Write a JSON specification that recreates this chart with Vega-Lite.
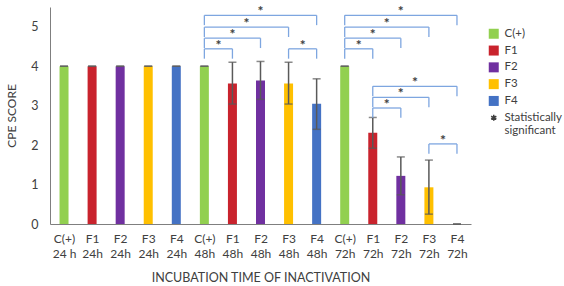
{
  "$schema": "https://vega.github.io/schema/vega-lite/v6.json",
  "width": 421,
  "height": 217,
  "autosize": {"type": "none"},
  "padding": {"left": 50, "top": 7, "right": 93, "bottom": 62},
  "background": "white",
  "config": {
    "font": "Lato",
    "view": {"stroke": null},
    "axis": {"labelColor": "#404040", "titleColor": "#404040", "domainColor": "#7f7f7f", "grid": false, "ticks": false, "titleFontWeight": "normal"}
  },
  "datasets": {
    "bars": [
      {"pos": 0, "group": "C(+)", "time": "24 h", "value": 4, "lo": 4, "hi": 4},
      {"pos": 1, "group": "F1", "time": "24h", "value": 4, "lo": 4, "hi": 4},
      {"pos": 2, "group": "F2", "time": "24h", "value": 4, "lo": 4, "hi": 4},
      {"pos": 3, "group": "F3", "time": "24h", "value": 4, "lo": 4, "hi": 4},
      {"pos": 4, "group": "F4", "time": "24h", "value": 4, "lo": 4, "hi": 4},
      {"pos": 5, "group": "C(+)", "time": "48h", "value": 4, "lo": 4, "hi": 4},
      {"pos": 6, "group": "F1", "time": "48h", "value": 3.56, "lo": 3.04, "hi": 4.1},
      {"pos": 7, "group": "F2", "time": "48h", "value": 3.64, "lo": 3.16, "hi": 4.12},
      {"pos": 8, "group": "F3", "time": "48h", "value": 3.56, "lo": 3.04, "hi": 4.1},
      {"pos": 9, "group": "F4", "time": "48h", "value": 3.05, "lo": 2.4, "hi": 3.68},
      {"pos": 10, "group": "C(+)", "time": "72h", "value": 4, "lo": 4, "hi": 4},
      {"pos": 11, "group": "F1", "time": "72h", "value": 2.31, "lo": 1.92, "hi": 2.7},
      {"pos": 12, "group": "F2", "time": "72h", "value": 1.22, "lo": 0.74, "hi": 1.7},
      {"pos": 13, "group": "F3", "time": "72h", "value": 0.93, "lo": 0.25, "hi": 1.62},
      {"pos": 14, "group": "F4", "time": "72h", "value": 0, "lo": 0, "hi": 0}
    ],
    "brackets": [
      {"from": 5, "to": 6, "mid": 5.5, "level": 4.44, "foot": 4.19},
      {"from": 5, "to": 7, "mid": 6, "level": 4.71, "foot": 4.46},
      {"from": 5, "to": 8, "mid": 6.5, "level": 4.99, "foot": 4.74},
      {"from": 5, "to": 9, "mid": 7, "level": 5.29, "foot": 5.04},
      {"from": 8, "to": 9, "mid": 8.5, "level": 4.44, "foot": 4.19},
      {"from": 10, "to": 11, "mid": 10.5, "level": 4.44, "foot": 4.19},
      {"from": 10, "to": 12, "mid": 11, "level": 4.71, "foot": 4.46},
      {"from": 10, "to": 13, "mid": 11.5, "level": 4.99, "foot": 4.74},
      {"from": 10, "to": 14, "mid": 12, "level": 5.29, "foot": 5.04},
      {"from": 11, "to": 12, "mid": 11.5, "level": 2.94, "foot": 2.69},
      {"from": 11, "to": 13, "mid": 12, "level": 3.21, "foot": 2.96},
      {"from": 11, "to": 14, "mid": 12.5, "level": 3.49, "foot": 3.24},
      {"from": 13, "to": 14, "mid": 13.5, "level": 2.03, "foot": 1.78}
    ]
  },
  "resolve": {"scale": {"x": "independent"}},
  "layer": [
    {
      "data": {"name": "bars"},
      "encoding": {
        "x": {
          "field": "pos", "type": "ordinal",
          "scale": {"type": "point", "padding": 0.5, "round": false},
          "axis": {
            "title": "INCUBATION TIME OF INACTIVATION",
            "labelAngle": 0,
            "labelExpr": "[['C(+)','24 h'],['F1','24h'],['F2','24h'],['F3','24h'],['F4','24h'],['C(+)','48h'],['F1','48h'],['F2','48h'],['F3','48h'],['F4','48h'],['C(+)','72h'],['F1','72h'],['F2','72h'],['F3','72h'],['F4','72h']][datum.value]",
            "labelFontSize": 12,
            "labelLineHeight": 15.7,
            "labelPadding": 9,
            "labelOverlap": false,
            "titleFontSize": 12.5,
            "titlePadding": 12
          }
        }
      },
      "layer": [
        {
          "mark": {"type": "bar", "width": 9},
          "encoding": {
            "y": {
              "field": "value", "type": "quantitative",
              "scale": {"domain": [0, 5.5], "nice": false},
              "axis": {"title": "CPE SCORE", "values": [0,1,2,3,4,5], "labelFontSize": 12.5, "labelPadding": 12, "titleFontSize": 12, "titlePadding": 12}
            },
            "color": {
              "field": "group", "type": "nominal",
              "scale": {"domain": ["C(+)", "F1", "F2", "F3", "F4", "sig"], "range": ["#92d050", "#c9232d", "#7030a0", "#ffc000", "#4472c4", "#404040"]},
              "legend": {
                "title": null,
                "orient": "none",
                "legendX": 438,
                "legendY": 21,
                "symbolType": "square",
                "symbolSize": 100,
                "symbolStrokeWidth": 0,
                "labelFontSize": 11.5,
                "labelColor": "#404040",
                "rowPadding": 3.8,
                "labelOffset": 5,
                "labelLimit": 80,
                "labelExpr": "datum.value === 'sig' ? ['Statistically', 'significant'] : datum.label",
                "encode": {
                  "symbols": {
                    "update": {
                      "shape": {"signal": "datum.value === 'sig' ? 'M0,-1L0,1M-0.87,-0.5L0.87,0.5M-0.87,0.5L0.87,-0.5' : 'square'"},
                      "stroke": {"signal": "datum.value === 'sig' ? '#404040' : null"},
                      "strokeWidth": {"signal": "datum.value === 'sig' ? 1.5 : 0"},
                      "size": {"signal": "datum.value === 'sig' ? 36 : 100"}
                    }
                  }
                }
              }
            }
          }
        },
        {
          "mark": {"type": "rule", "color": "#595959", "strokeWidth": 1.5},
          "encoding": {
            "y": {"field": "lo", "type": "quantitative"},
            "y2": {"field": "hi"}
          }
        },
        {
          "mark": {"type": "tick", "orient": "horizontal", "color": "#595959", "size": 8, "thickness": 1.5},
          "encoding": {
            "y": {"field": "hi", "type": "quantitative"}
          }
        },
        {
          "mark": {"type": "tick", "orient": "horizontal", "color": "#595959", "size": 8, "thickness": 1.5},
          "encoding": {
            "y": {"field": "lo", "type": "quantitative"}
          }
        }
      ]
    },
    {
      "data": {"name": "brackets"},
      "encoding": {
        "x": {"field": "from", "type": "quantitative", "scale": {"domain": [-0.5, 14.5], "nice": false, "zero": false}, "axis": null}
      },
      "layer": [
        {
          "mark": {"type": "rule", "color": "#7ea6e0", "strokeWidth": 1.3},
          "encoding": {
            "x2": {"field": "to"},
            "y": {"field": "level", "type": "quantitative"}
          }
        },
        {
          "mark": {"type": "rule", "color": "#7ea6e0", "strokeWidth": 1.3},
          "encoding": {
            "y": {"field": "level", "type": "quantitative"},
            "y2": {"field": "foot"}
          }
        },
        {
          "mark": {"type": "rule", "color": "#7ea6e0", "strokeWidth": 1.3},
          "encoding": {
            "x": {"field": "to", "type": "quantitative", "axis": null},
            "y": {"field": "level", "type": "quantitative"},
            "y2": {"field": "foot"}
          }
        },
        {
          "mark": {"type": "text", "text": "*", "fontSize": 14, "fontWeight": "bold", "color": "#404040", "baseline": "middle", "dy": -3},
          "encoding": {
            "x": {"field": "mid", "type": "quantitative", "axis": null},
            "y": {"field": "level", "type": "quantitative"}
          }
        }
      ]
    }
  ]
}
